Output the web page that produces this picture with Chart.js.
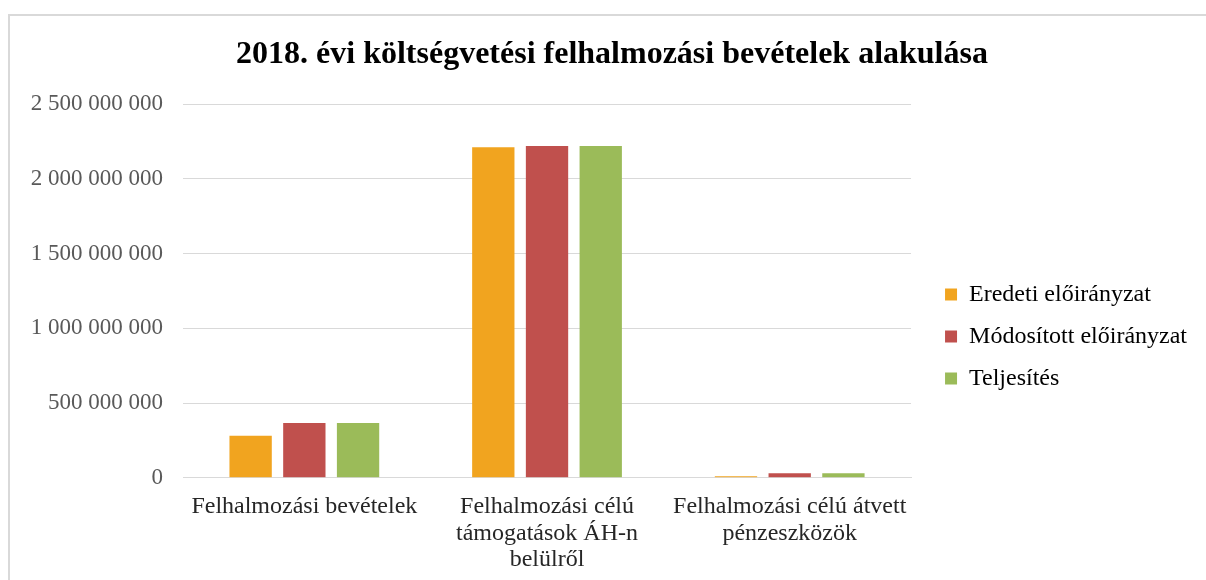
<!DOCTYPE html>
<html>
<head>
<meta charset="utf-8">
<script src="https://cdn.jsdelivr.net/npm/chart.js@4"></script>
<style>
  html, body { margin: 0; padding: 0; background: #ffffff; overflow: hidden; width: 1206px; height: 580px; }
  #frame { position: absolute; left: 8px; top: 14px; width: 1400px; height: 800px; border-left: 2px solid #d9d9d9; border-top: 2px solid #d9d9d9; box-sizing: border-box; }
  #wrap { position: absolute; left: 0; top: 0; width: 1206px; height: 580px; }
</style>
</head>
<body>
<div id="frame"></div>
<div id="wrap"><canvas id="c" width="1206" height="580"></canvas></div>
<script>
const chartTitle = '2018. évi költségvetési felhalmozási bevételek alakulása';
const categories = [
  ['Felhalmozási bevételek'],
  ['Felhalmozási célú', 'támogatások ÁH-n', 'belülről'],
  ['Felhalmozási célú átvett', 'pénzeszközök']
];
const seriesNames = ['Eredeti előirányzat', 'Módosított előirányzat', 'Teljesítés'];
const eredeti = [282000000, 2210000000, 11000000];
const modositott = [367000000, 2219000000, 31000000];
const teljesites = [367000000, 2219000000, 31000000];
const yTickLabels = ['0', '500 000 000', '1 000 000 000', '1 500 000 000', '2 000 000 000', '2 500 000 000'];

const colors = ['#F1A41F', '#C0504D', '#9BBB59'];
const serif = "'Liberation Serif', 'Times New Roman', serif";

// nudges the legend and title boxes to match the source layout
const layoutNudge = {
  id: 'layoutNudge',
  afterLayout(chart) {
    const lg = chart.legend;
    if (lg) { lg.left += 16; lg.right += 16; }
    const tb = chart.titleBlock;
    if (tb) { tb.left += 8; tb.right += 8; }
  }
};

new Chart(document.getElementById('c'), {
  type: 'bar',
  data: {
    labels: categories,
    datasets: [
      { label: seriesNames[0], data: eredeti, backgroundColor: colors[0] },
      { label: seriesNames[1], data: modositott, backgroundColor: colors[1] },
      { label: seriesNames[2], data: teljesites, backgroundColor: colors[2] }
    ]
  },
  plugins: [layoutNudge],
  options: {
    responsive: false,
    animation: false,
    devicePixelRatio: 1,
    layout: { padding: { left: 27, right: 25, top: 0, bottom: -9 } },
    datasets: { bar: { categoryPercentage: 0.664, barPercentage: 0.788 } },
    plugins: {
      tooltip: { enabled: false },
      title: {
        display: true,
        text: chartTitle,
        color: '#000000',
        font: { family: serif, size: 32, weight: 'bold', lineHeight: 1.2 },
        padding: { top: 35.8, bottom: 29.8 }
      },
      legend: {
        position: 'right',
        align: 'center',
        title: { display: true, text: ' ', font: { size: 10, lineHeight: 1.2 }, padding: { top: 0, bottom: 72 } },
        labels: {
          color: '#000000',
          font: { family: serif, size: 24 },
          boxWidth: 12,
          boxHeight: 12,
          padding: 18
        }
      }
    },
    scales: {
      x: {
        grid: { display: false, drawTicks: false },
        border: { display: true, color: '#d9d9d9', width: 1 },
        ticks: {
          color: '#262626',
          font: { family: serif, size: 24, lineHeight: 1.1 },
          padding: 16,
          maxRotation: 0,
          minRotation: 0,
          autoSkip: false
        }
      },
      y: {
        min: 0,
        max: 2500000000,
        grid: { color: '#d9d9d9', lineWidth: 1, drawTicks: false },
        border: { display: false },
        ticks: {
          stepSize: 500000000,
          color: '#595959',
          font: { family: serif, size: 23 },
          padding: 20,
          callback: (v, i) => yTickLabels[i]
        },
        afterFit: (s) => { s.width = 156; }
      }
    }
  }
});
</script>
</body>
</html>
